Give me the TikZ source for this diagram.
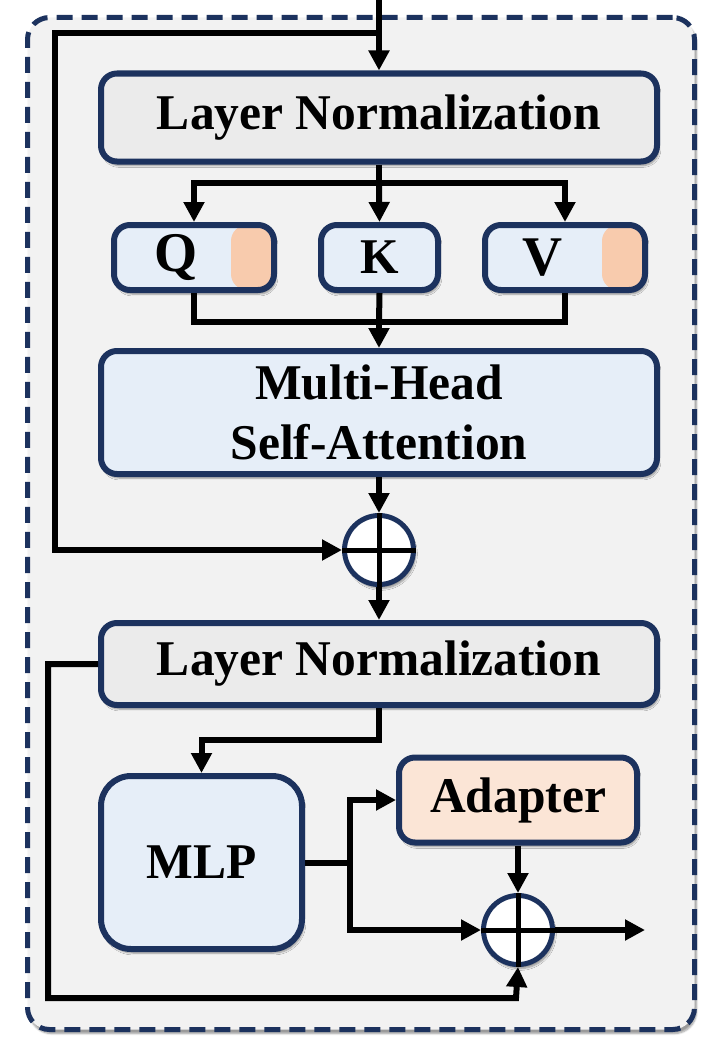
\documentclass[tikz,border=0pt]{standalone}
\usepackage{fontspec}
\setmainfont{Liberation Serif}[FakeStretch=0.99]
\usetikzlibrary{arrows.meta,shadows.blur}
\definecolor{navy}{HTML}{1C325E}
\definecolor{bgray}{HTML}{F2F2F2}
\definecolor{lngray}{HTML}{EBEBEB}
\definecolor{lblue}{HTML}{E6EEF8}
\definecolor{ostrip}{HTML}{F8CBAD}
\definecolor{oadapt}{HTML}{FBE5D6}
\begin{document}
\begin{tikzpicture}[x=1pt,y=-1pt,
  every node/.style={font=\bfseries\fontsize{50}{60}\selectfont},
  shad/.style={blur shadow={shadow xshift=2pt, shadow yshift=-4pt, shadow blur steps=6, shadow opacity=40}},
  box/.style={draw=navy, line width=6pt, rounded corners=16pt, inner sep=0pt, shad},
  lnbox/.style={box, fill=lngray, minimum width=556pt, minimum height=88pt},
  bluebox/.style={box, fill=lblue},
  strip/.style={path picture={\fill[ostrip] ([xshift=-43pt]path picture bounding box.north east) rectangle (path picture bounding box.south east);}},
  plus/.style={circle, draw=navy, fill=white, line width=5pt, minimum size=69pt, inner sep=0pt, shad},
  frame/.style={draw=navy, fill=bgray, line width=5pt, rounded corners=22pt, dash pattern=on 16pt off 9pt, inner sep=0pt, shad},
  conn/.style={line width=6pt, line join=miter},
  arr/.style={conn, -{Triangle[length=20pt,width=20pt]}},
  cross/.style={line width=5pt}
]
\useasboundingbox (0,0) rectangle (709,1057);
\node[frame, minimum width=667pt, minimum height=1012pt] (frame) at (361,523.5) {};

% nodes
\node[lnbox] (ln1) at (379,117.5) {Layer Normalization};
\node[bluebox, strip, minimum width=160pt, minimum height=65pt] (q) at (194,257.5) {\fontsize{56}{60}\selectfont Q\hspace*{36pt}};
\node[bluebox, minimum width=117pt, minimum height=65pt] (k) at (379.5,257.5) {K};
\node[bluebox, strip, minimum width=160pt, minimum height=65pt] (v) at (565,257.5) {\fontsize{56}{60}\selectfont V\hspace*{44pt}};
\node[bluebox, minimum width=556pt, minimum height=123pt, align=center] (mhsa) at (379,412.5) {Multi-Head\\Self-Attention};
\node[plus] (p1) at (379,550) {};
\node[lnbox, minimum height=82pt] (ln2) at (379,664) {Layer Normalization};
\node[bluebox, rounded corners=30pt, minimum width=201pt, minimum height=173pt] (mlp) at (201.5,862.5) {MLP};
\node[box, fill=oadapt, minimum width=238pt, minimum height=85pt] (ad) at (518,800) {Adapter};
\node[plus] (p2) at (518,930) {};

% coordinates
\coordinate (in) at (379,0);
\coordinate (sk) at (379,33);
\coordinate (br) at (379,183);
\coordinate (mg) at (379,322);
\coordinate (j) at (350,862.5);
\coordinate (out) at (645,930);

% connectors
\draw[arr] (in) -- (ln1.north);
\draw[arr] (sk) -- ++(-324,0) |- (p1.west);
\draw[conn] (ln1.south) -- (br);
\draw[arr] (br) -| (q.north);
\draw[arr] (br) -| (v.north);
\draw[arr] (br) -- (k.north);
\draw[conn] (q.south) |- (mg) -| (v.south);
\draw[conn] (k.south) -- (mg);
\draw[arr] (mg) -- (mhsa.north);
\draw[arr] (mhsa.south) -- (p1.north);
\draw[arr] (p1.south) -- (ln2.north);
\draw[arr] (ln2.south) -- ++(0,32) -| (mlp.north);
\draw[arr] (ln2.west) -- ++(-50,0) |- ++(468,334) -- (p2.south);
\draw[conn] (mlp.east) -- (j);
\draw[arr] (j) |- (ad.west);
\draw[arr] (j) |- (p2.west);
\draw[arr] (ad.south) -- (p2.north);
\draw[arr] (p2.east) -- (out);

% crosses
\draw[cross] (p1.north) -- (p1.south) (p1.west) -- (p1.east);
\draw[cross] (p2.north) -- (p2.south) (p2.west) -- (p2.east);
\end{tikzpicture}
\end{document}
